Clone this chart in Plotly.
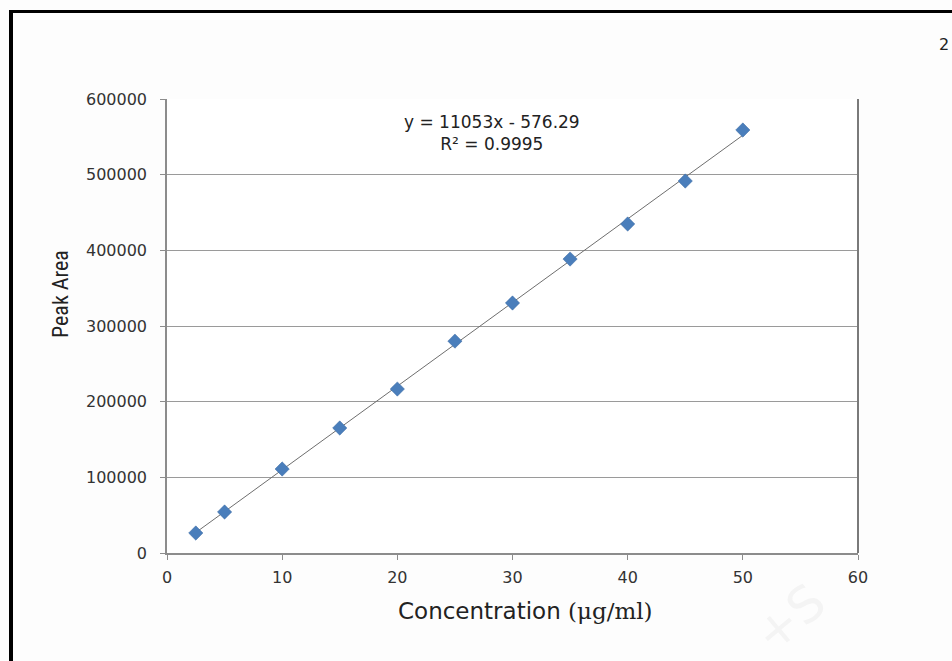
import plotly.graph_objects as go

# Data
concentration = [2.5, 5, 10, 15, 20, 25, 30, 35, 40, 45, 50]
peak_area = [26400, 54200, 111000, 165200, 216700, 280000, 330400, 388500, 434800, 491600, 559000]
slope = 11053
intercept = -576.29
r2_text = "R² = 0.9995"
eq_text = "y = 11053x - 576.29"
x_ticks = [0, 10, 20, 30, 40, 50, 60]
y_ticks = [0, 100000, 200000, 300000, 400000, 500000, 600000]

trend_x = [min(concentration), max(concentration)]
trend_y = [slope * v + intercept for v in trend_x]

W, H = 952, 661
L, R, T, B = 167, 94, 99, 108
pw, ph = W - L - R, H - T - B

def px(x):
    return (x - L) / pw

def py(y):
    return (H - B - y) / ph

fig = go.Figure()
fig.add_trace(go.Scatter(x=trend_x, y=trend_y, mode="lines",
                         line=dict(color="#6e6e6e", width=1), hoverinfo="skip",
                         showlegend=False))
fig.add_trace(go.Scatter(x=concentration, y=peak_area, mode="markers",
                         marker=dict(symbol="diamond", size=11, color="#4a7ebb",
                                     line=dict(color="#3d6aa3", width=0.5)),
                         showlegend=False))

tickfont = dict(family="DejaVu Sans", size=16, color="#333333")
fig.update_xaxes(range=[0, 60], tickvals=x_ticks, ticks="outside", ticklen=5,
                 tickcolor="#8c8c8c", showgrid=False, zeroline=False,
                 showline=True, linecolor="#8c8c8c", linewidth=1.5,
                 tickfont=tickfont, mirror=False, ticklabelstandoff=4)
fig.update_yaxes(range=[0, 600000], tickvals=y_ticks, ticks="outside", ticklen=5,
                 tickcolor="#8c8c8c", showgrid=True, gridcolor="#9a9a9a", gridwidth=1,
                 zeroline=False, showline=True, linecolor="#8c8c8c", linewidth=1.5,
                 tickfont=tickfont, tickformat="d", ticklabelstandoff=10)

shapes = [
    # right border of plot area
    dict(type="line", xref="paper", yref="paper", x0=1, x1=1, y0=0, y1=1,
         line=dict(color="#7a7a7a", width=2)),
    # page frame
    dict(type="line", xref="paper", yref="paper", x0=px(11), x1=px(952), y0=py(11.5), y1=py(11.5),
         line=dict(color="#000000", width=3)),
    dict(type="line", xref="paper", yref="paper", x0=px(11), x1=px(11), y0=py(10), y1=py(661),
         line=dict(color="#000000", width=4)),
]

annotations = [
    dict(text=eq_text + "<br>" + r2_text, x=px(492), y=py(133), xref="paper", yref="paper",
         showarrow=False, align="center",
         font=dict(family="DejaVu Sans", size=17, color="#222222"), xanchor="center", yanchor="middle"),
    dict(text="Concentration <span style='font-family:DejaVu Serif'>(μg/ml)</span>",
         x=px(525), y=py(611), xref="paper", yref="paper", showarrow=False,
         font=dict(family="DejaVu Sans", size=23, color="#222222"), xanchor="center", yanchor="middle"),
    dict(text="Peak Area", x=px(60), y=py(294), xref="paper", yref="paper", showarrow=False,
         textangle=-90, font=dict(family="Liberation Sans Narrow, Roboto Condensed, Liberation Sans", size=22, color="#222222"),
         xanchor="center", yanchor="middle"),
    dict(text="2", x=px(944), y=py(45), xref="paper", yref="paper", showarrow=False,
         font=dict(family="DejaVu Sans", size=16, color="#222222"), xanchor="center", yanchor="middle"),
    dict(text="+S", x=px(790), y=py(618), xref="paper", yref="paper", showarrow=False,
         textangle=-40, font=dict(family="DejaVu Sans", size=50, color="rgba(215,215,215,0.22)"),
         xanchor="center", yanchor="middle"),
]

fig.update_layout(width=W, height=H, margin=dict(l=L, r=R, t=T, b=B),
                  paper_bgcolor="#fdfdfd", plot_bgcolor="#ffffff",
                  shapes=shapes, annotations=annotations, showlegend=False)

fig.write_html("out.html")
